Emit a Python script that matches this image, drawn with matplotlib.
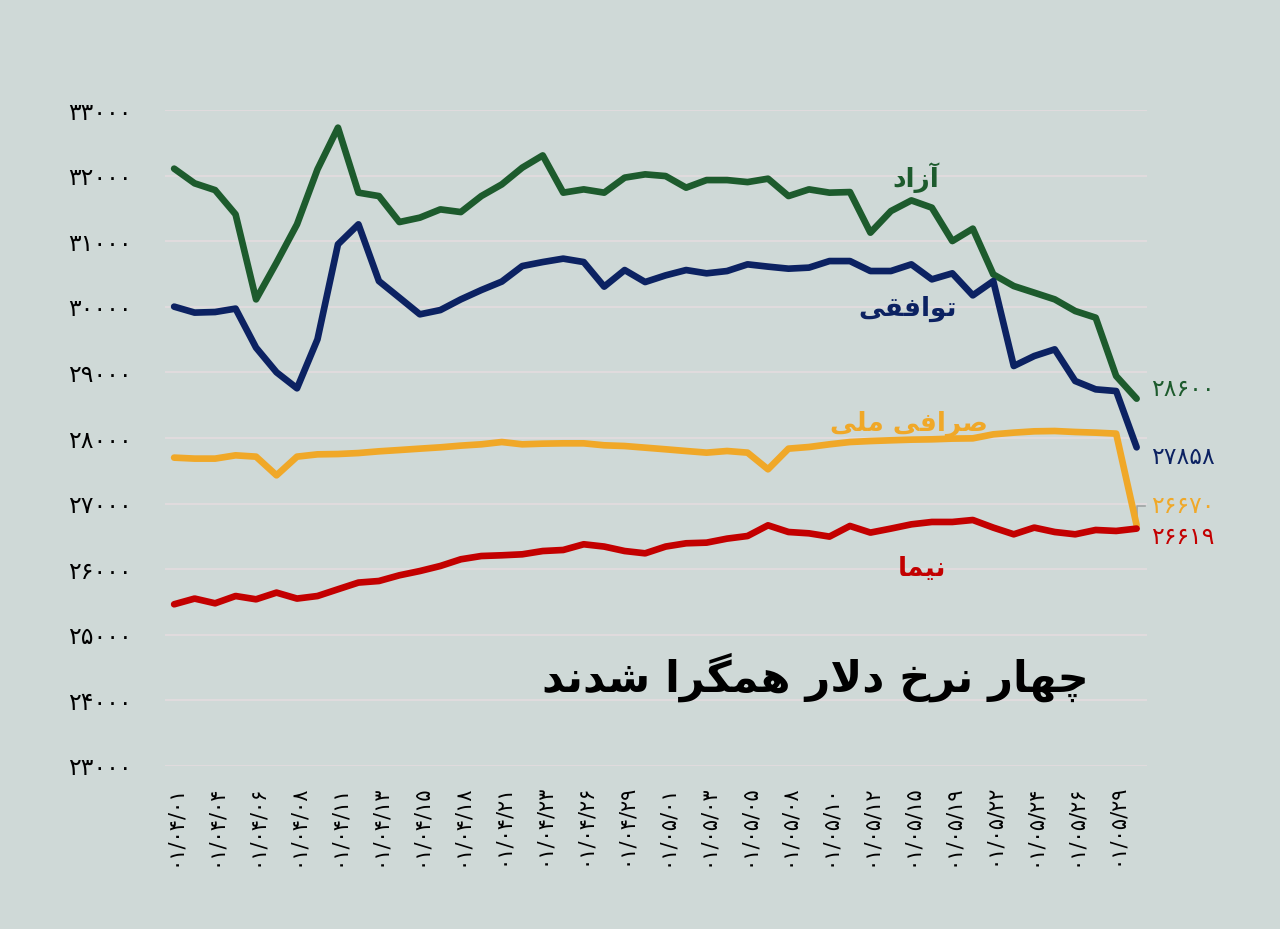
import matplotlib
matplotlib.use('Agg')
import matplotlib.pyplot as plt

# data (48 trading days, Tir-Mordad 1401)
azad = [32107, 31883, 31780, 31410, 30114, 30674, 31258, 32096, 32732, 31741,
        31689, 31293, 31360, 31486, 31445, 31689, 31867, 32122, 32309, 31741,
        31791, 31741, 31970, 32020, 31994, 31817, 31933, 31933, 31902, 31954,
        31689, 31791, 31741, 31750, 31131, 31460, 31623, 31512, 31003, 31192,
        30495, 30317, 30216, 30114, 29936, 29835, 28945, 28600]
tavafoghi = [30003, 29912, 29921, 29973, 29378, 29002, 28758, 29505, 30953, 31258,
             30393, 30140, 29886, 29951, 30114, 30256, 30385, 30622, 30683, 30735,
             30683, 30308, 30561, 30378, 30480, 30561, 30511, 30546, 30648, 30613,
             30582, 30598, 30698, 30698, 30546, 30546, 30648, 30419, 30511, 30175,
             30393, 29098, 29250, 29352, 28869, 28742, 28716, 27858]
sarafi = [27701, 27686, 27686, 27736, 27716, 27431, 27716, 27751, 27756, 27771,
          27797, 27817, 27838, 27858, 27884, 27904, 27939, 27904, 27914, 27919,
          27919, 27889, 27878, 27853, 27828, 27802, 27777, 27802, 27777, 27523,
          27838, 27863, 27904, 27939, 27954, 27965, 27975, 27980, 27991, 27995,
          28056, 28082, 28102, 28107, 28092, 28082, 28067, 26670]
nima = [25465, 25552, 25480, 25591, 25541, 25643, 25552, 25591, 25694, 25796,
        25820, 25907, 25972, 26049, 26151, 26201, 26212, 26227, 26277, 26293,
        26380, 26345, 26277, 26242, 26345, 26395, 26405, 26466, 26506, 26669,
        26567, 26547, 26497, 26659, 26558, 26619, 26684, 26720, 26720, 26750,
        26634, 26532, 26634, 26567, 26532, 26598, 26583, 26619]

# every other day is labelled on the axis
date_labels = ['01/04/01', '01/04/04', '01/04/06', '01/04/08', '01/04/11', '01/04/13',
               '01/04/15', '01/04/18', '01/04/21', '01/04/23', '01/04/26', '01/04/29',
               '01/05/01', '01/05/03', '01/05/05', '01/05/08', '01/05/10', '01/05/12',
               '01/05/15', '01/05/19', '01/05/22', '01/05/24', '01/05/26', '01/05/29']
y_ticks = list(range(23000, 34000, 1000))

names = ['آزاد', 'توافقی', 'صرافی ملی', 'نیما']
colors = ['#1d5b2d', '#0c2262', '#f0a828', '#c30000']
title = 'چهار نرخ دلار همگرا شدند'

# --- minimal persian shaping (matplotlib has no complex text layout) ---
FORMS = {
    'ا': ('\uFE8D', '\uFE8E', None, None),
    'آ': ('\uFE81', '\uFE82', None, None),
    'ت': ('\uFE95', '\uFE96', '\uFE97', '\uFE98'),
    'خ': ('\uFEA5', '\uFEA6', '\uFEA7', '\uFEA8'),
    'د': ('\uFEA9', '\uFEAA', None, None),
    'ر': ('\uFEAD', '\uFEAE', None, None),
    'ز': ('\uFEAF', '\uFEB0', None, None),
    'ش': ('\uFEB5', '\uFEB6', '\uFEB7', '\uFEB8'),
    'ص': ('\uFEB9', '\uFEBA', '\uFEBB', '\uFEBC'),
    'ف': ('\uFED1', '\uFED2', '\uFED3', '\uFED4'),
    'ق': ('\uFED5', '\uFED6', '\uFED7', '\uFED8'),
    'ل': ('\uFEDD', '\uFEDE', '\uFEDF', '\uFEE0'),
    'م': ('\uFEE1', '\uFEE2', '\uFEE3', '\uFEE4'),
    'ن': ('\uFEE5', '\uFEE6', '\uFEE7', '\uFEE8'),
    'ه': ('\uFEE9', '\uFEEA', '\uFEEB', '\uFEEC'),
    'و': ('\uFEED', '\uFEEE', None, None),
    'ی': ('\uFBFC', '\uFBFD', '\uFBFE', '\uFBFF'),
    'چ': ('\uFB7A', '\uFB7B', '\uFB7C', '\uFB7D'),
    'گ': ('\uFB92', '\uFB93', '\uFB94', '\uFB95'),
}


def shape(s):
    res = []
    i = 0
    while i < len(s):
        c = s[i]
        if c not in FORMS:
            res.append(c)
            i += 1
            continue
        prev = s[i - 1] if i > 0 else None
        joins_prev = prev in FORMS and FORMS[prev][2] is not None
        if c == 'ل' and i + 1 < len(s) and s[i + 1] == 'ا':
            res.append('\uFEFC' if joins_prev else '\uFEFB')
            i += 2
            continue
        nxt = s[i + 1] if i + 1 < len(s) else None
        iso, fin, ini, med = FORMS[c]
        joins_next = ini is not None and nxt in FORMS
        if joins_prev and joins_next:
            res.append(med)
        elif joins_prev:
            res.append(fin)
        elif joins_next:
            res.append(ini)
        else:
            res.append(iso)
        i += 1
    return ''.join(reversed(res))


def fa(x):
    return str(x).translate(str.maketrans('0123456789', '۰۱۲۳۴۵۶۷۸۹'))


bg = '#cfd9d7'
fig = plt.figure(figsize=(12.8, 9.2901), dpi=100, facecolor=bg)
ax = fig.add_axes([0.129, 0.1755, 0.767, 0.706], facecolor=bg)

x = list(range(len(azad)))
for series, col in zip([azad, tavafoghi, sarafi, nima], colors):
    ax.plot(x, series, color=col, lw=4.8, solid_joinstyle='round',
            solid_capstyle='round', zorder=3)

ax.set_ylim(23000, 33000)
ax.set_xlim(-0.44, 47.5)
ax.set_yticks(y_ticks)
ax.set_yticklabels([fa(v) for v in y_ticks], fontsize=17)
ax.set_xticks(range(0, 48, 2))
ax.set_xticklabels([fa(d) for d in date_labels], rotation=90, fontsize=15)
ax.tick_params(length=0)
ax.tick_params(axis='y', pad=24)
ax.tick_params(axis='x', pad=13)
ax.grid(axis='y', color='#e4dcdf', lw=1.2)
ax.set_axisbelow(True)
for s in ax.spines.values():
    s.set_visible(False)

# series names
ax.text(36.2, 31974, shape(names[0]), color=colors[0], fontsize=19,
        fontweight='bold', ha='center', va='center')
ax.text(35.8, 29962, shape(names[1]), color=colors[1], fontsize=19,
        fontweight='bold', ha='center', va='center')
ax.text(35.9, 28209, shape(names[2]), color=colors[2], fontsize=19,
        fontweight='bold', ha='center', va='center')
ax.text(36.5, 25998, shape(names[3]), color=colors[3], fontsize=19,
        fontweight='bold', ha='center', va='center')

# last values
ends = [(28742, azad[-1]), (27706, tavafoghi[-1]), (26959, sarafi[-1]), (26486, nima[-1])]
for (yy, val), col in zip(ends, colors):
    ax.text(47.7, yy, fa(val), color=col, fontsize=17, ha='left',
            va='center', clip_on=False)
ax.plot([47, 47, 47.4], [sarafi[-1], 26959, 26959], color='#a0a4a4', lw=1.2,
        clip_on=False, zorder=2)

fig.text(0.637, 0.271, shape(title), fontsize=31, fontweight='bold',
         ha='center', va='center', color='black')

fig.savefig('out.png', dpi=100, facecolor=bg)
